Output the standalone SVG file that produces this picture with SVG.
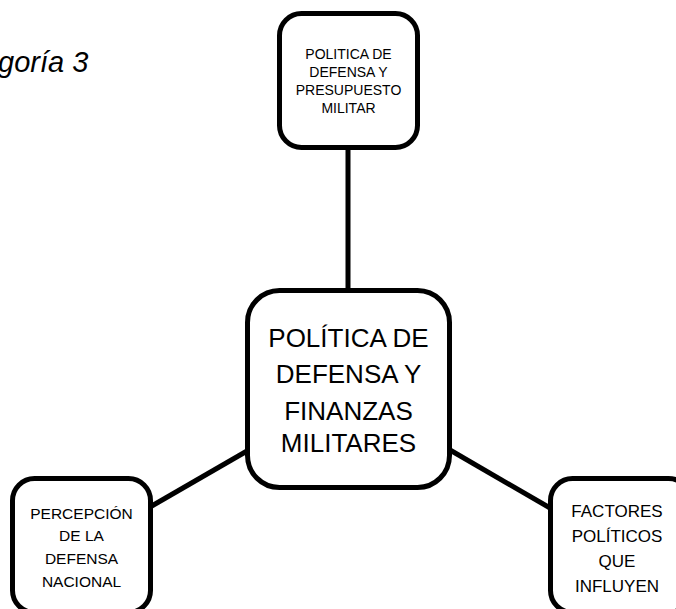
<svg xmlns="http://www.w3.org/2000/svg" width="676" height="609" viewBox="0 0 676 609">
<style>
.box{fill:#fff;stroke:#000;stroke-width:5}
.conn{stroke:#000;stroke-width:5;fill:none}
.t{font-family:"Liberation Sans",Arial,sans-serif;fill:#000;text-anchor:middle}
</style>
<rect width="676" height="609" fill="#fff"/>
<text x="-2" y="72" font-family="Liberation Sans, Arial, sans-serif" font-style="italic" font-size="29" fill="#000">goría 3</text>
<g id="connectors">
<line class="conn" x1="348" y1="147" x2="348" y2="290"/>
<line class="conn" x1="247" y1="451" x2="150" y2="507"/>
<line class="conn" x1="450" y1="450" x2="550" y2="508"/>
</g>
<g id="n-top">
<rect class="box" x="279.5" y="13.5" width="138" height="134" rx="22"/>
<text class="t" font-size="14"><tspan x="348.5" y="59">POLITICA DE</tspan><tspan x="348.5" y="77">DEFENSA Y</tspan><tspan x="348.5" y="95">PRESUPUESTO</tspan><tspan x="348.5" y="113">MILITAR</tspan></text>
</g>
<g id="n-center">
<rect class="box" x="247.5" y="290.5" width="202" height="197" rx="32"/>
<text class="t" font-size="26"><tspan x="348.5" y="347">POLÍTICA DE</tspan><tspan x="348.5" y="383">DEFENSA Y</tspan><tspan x="348.5" y="420">FINANZAS</tspan><tspan x="348.5" y="452">MILITARES</tspan></text>
</g>
<g id="n-left">
<rect class="box" x="12.5" y="478.5" width="138" height="134" rx="22"/>
<text class="t" font-size="15.5"><tspan x="81.5" y="519">PERCEPCIÓN</tspan><tspan x="81.5" y="541">DE LA</tspan><tspan x="81.5" y="564">DEFENSA</tspan><tspan x="81.5" y="587">NACIONAL</tspan></text>
</g>
<g id="n-right">
<rect class="box" x="550.5" y="478.5" width="140" height="134" rx="22"/>
<text class="t" font-size="17"><tspan x="617" y="517">FACTORES</tspan><tspan x="617" y="542">POLÍTICOS</tspan><tspan x="617" y="567">QUE</tspan><tspan x="617" y="592">INFLUYEN</tspan></text>
</g>
</svg>
